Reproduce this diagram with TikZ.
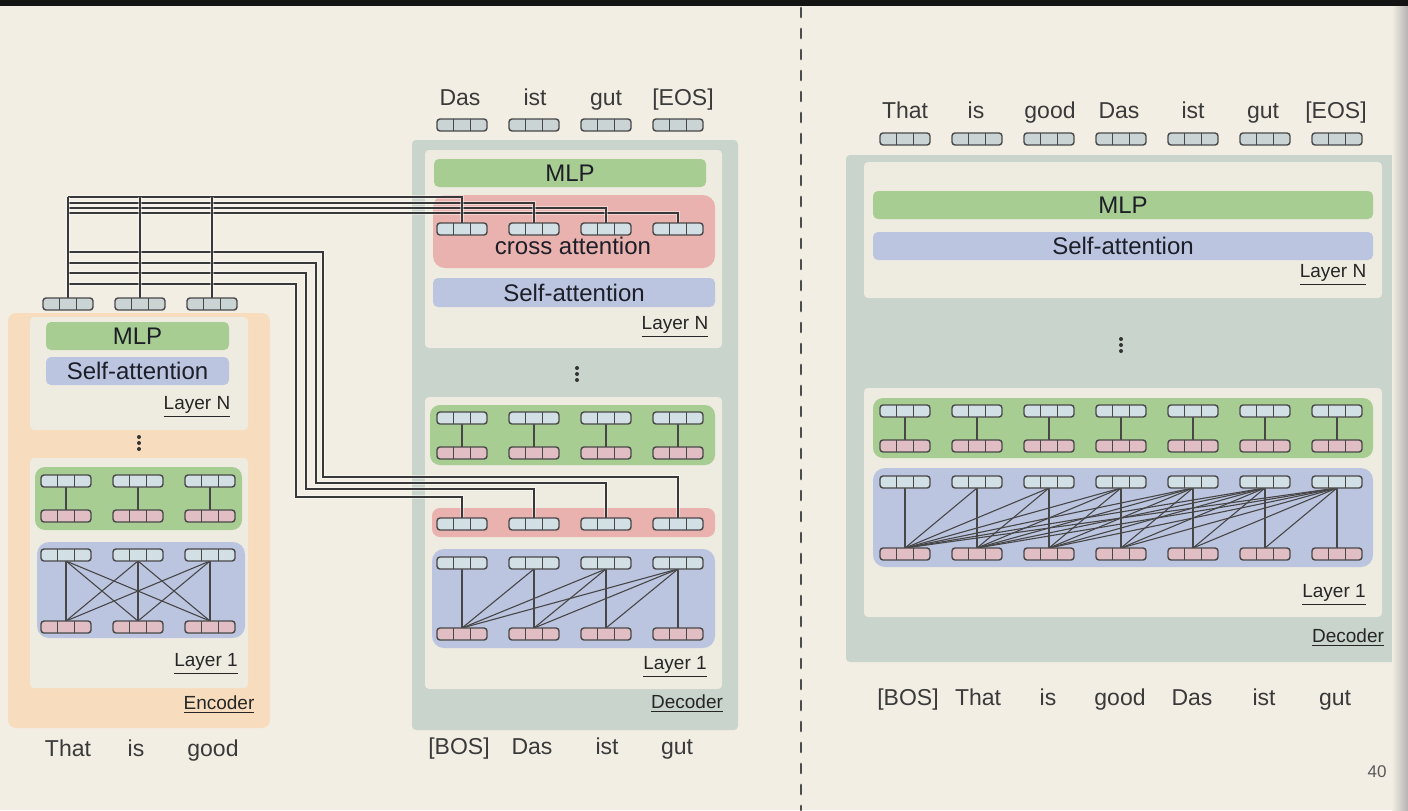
\documentclass[tikz,border=0pt]{standalone}
\usepackage{fontspec}
\setmainfont{Liberation Sans}
\usetikzlibrary{calc}
\pgfdeclarelayer{bgl}
\pgfdeclarelayer{linel}
\pgfsetlayers{bgl,linel,main}
\definecolor{pagebg}{RGB}{243,238,228}
\definecolor{orangebox}{RGB}{247,221,190}
\definecolor{innerbox}{RGB}{238,235,224}
\definecolor{decbox}{RGB}{201,212,204}
\definecolor{mlpgreen}{RGB}{168,205,146}
\definecolor{sablue}{RGB}{188,197,224}
\definecolor{crossred}{RGB}{234,178,174}
\definecolor{cellblue}{RGB}{210,223,228}
\definecolor{cellpink}{RGB}{224,190,196}
\definecolor{cellgray}{RGB}{203,212,213}
\definecolor{edgec}{RGB}{72,72,72}
\definecolor{bartxt}{RGB}{28,30,40}
\definecolor{wordtxt}{RGB}{58,58,58}
\tikzset{
  vec/.style={draw=edgec, line width=0.7pt, rounded corners=1.5pt, minimum width=25pt,
    minimum height=6pt, inner sep=0pt, outer sep=0pt,
    path picture={
      \draw[edgec, line width=0.45pt]
        ($(path picture bounding box.south west)!0.333!(path picture bounding box.south east)$) --
        ($(path picture bounding box.north west)!0.333!(path picture bounding box.north east)$);
      \draw[edgec, line width=0.45pt]
        ($(path picture bounding box.south west)!0.667!(path picture bounding box.south east)$) --
        ($(path picture bounding box.north west)!0.667!(path picture bounding box.north east)$);
    }},
  vb/.style={vec, fill=cellblue},
  vp/.style={vec, fill=cellpink},
  vg/.style={vec, fill=cellgray},
  bar/.style={rounded corners=2.5pt, inner sep=0pt, font=\fontsize{12}{14}\selectfont, text=bartxt},
  bartext/.style={inner sep=0pt, font=\fontsize{12}{14}\selectfont, text=bartxt, text height=8.6pt, text depth=0pt},
  lbl/.style={inner sep=0pt, font=\fontsize{9.5}{11}\selectfont, text=black!85, text height=6.8pt, text depth=2.6pt},
  word/.style={inner sep=0pt, font=\fontsize{11.5}{13}\selectfont, text=wordtxt, text height=8.2pt, text depth=0pt},
  conn/.style={draw=black!78, line width=0.75pt, preaction={draw=white, line width=2.2pt, opacity=0.45}},
  attnl/.style={draw=black!72, line width=0.55pt},
  dotc/.style={fill=black!80}
}
\begin{document}
\begin{tikzpicture}[x=0.5pt,y=-0.5pt]
\useasboundingbox (0,0) rectangle (1408,810);
\begin{pgfonlayer}{bgl}
\fill[pagebg] (0,0) rectangle (1408,810);
\fill[black!92] (0,0) rectangle (1408,6);
% dashed divider
\draw[black!70, line width=1.4pt, line cap=round, dash pattern=on 4.5pt off 6pt] (801,8) -- (801,810);
% ---------- Encoder ----------
\fill[orangebox, rounded corners=4pt] (8,313) rectangle (270,728);
\fill[innerbox, rounded corners=2pt] (30,317) rectangle (248,430);
\fill[innerbox, rounded corners=2pt] (30,458) rectangle (248,688);
\fill[mlpgreen, rounded corners=5pt] (35,467) rectangle (242,530);
\fill[sablue, rounded corners=6pt] (37,542) rectangle (245,638);
\node[bar, fill=mlpgreen, minimum width=91.5pt, minimum height=14pt] (emlp) at (137.5,336) {};
\node[bar, fill=sablue, minimum width=91.5pt, minimum height=14pt] (esa) at (137.5,371) {};
% ---------- Decoder (middle) ----------
\fill[decbox, rounded corners=2pt] (412,140) rectangle (738,730);
\fill[innerbox, rounded corners=2pt] (425,150) rectangle (722,348);
\fill[innerbox, rounded corners=2pt] (425,397) rectangle (722,689);
\node[bar, fill=mlpgreen, minimum width=136pt, minimum height=14pt] (dmlp) at (570,173) {};
\fill[crossred, rounded corners=6pt] (433,195) rectangle (715,268);
\node[bar, fill=sablue, minimum width=141pt, minimum height=14.5pt] (dsa) at (574,292.5) {};
\fill[mlpgreen, rounded corners=5pt] (430,405) rectangle (715,465);
\fill[crossred, rounded corners=4pt] (432,508) rectangle (715,537);
\fill[sablue, rounded corners=6pt] (432,549) rectangle (715,648);
% ---------- Decoder (right) ----------
\fill[decbox, rounded corners=2pt] (846,155) rectangle (1396,662);
\fill[innerbox, rounded corners=2pt] (864,162) rectangle (1382,298);
\fill[innerbox, rounded corners=2pt] (864,388) rectangle (1382,617);
\node[bar, fill=mlpgreen, minimum width=250pt, minimum height=14pt] (rmlp) at (1123,205) {};
\node[bar, fill=sablue, minimum width=250pt, minimum height=14pt] (rsa) at (1123,246) {};
\fill[mlpgreen, rounded corners=5pt] (873,398) rectangle (1373,458);
\fill[sablue, rounded corners=6pt] (873,468) rectangle (1373,567);
% right edge shading
\shade[left color=pagebg, right color=black!30] (1392,6) rectangle (1408,810);
\end{pgfonlayer}

% ---------- bar texts ----------
\node[bartext] (temlp) at (emlp) {MLP};
\node[bartext] (tesa) at (esa) {Self-attention};
\node[bartext] (tdmlp) at (dmlp) {MLP};
\node[bartext] (tdsa) at (dsa) {Self-attention};
\node[bartext] (tdcross) at (573,246) {cross attention};
\node[bartext] (trmlp) at (rmlp) {MLP};
\node[bartext] (trsa) at (rsa) {Self-attention};
% ---------- labels ----------
\node[lbl] (encN) at (197,405) {\underline{Layer N}};
\node[lbl] (enc1) at (206,662) {\underline{Layer 1}};
\node[lbl] (encl) at (219,705) {\underline{Encoder}};
\node[lbl] (decN) at (675,325) {\underline{Layer N}};
\node[lbl] (dec1) at (675,665) {\underline{Layer 1}};
\node[lbl] (decl) at (687,704) {\underline{Decoder}};
\node[lbl] (rN) at (1333,273) {\underline{Layer N}};
\node[lbl] (r1) at (1334,593) {\underline{Layer 1}};
\node[lbl] (rdl) at (1348,638) {\underline{Decoder}};
\node[font=\fontsize{8.5}{10}\selectfont, text=black!65] (pnum) at (1377,772) {40};

% dots
\foreach \yy in {-6,0,6} {
  \fill[dotc] (139,443+\yy) circle (1pt);
  \fill[dotc] (577,374+\yy) circle (1pt);
  \fill[dotc] (1121,345+\yy) circle (1pt);
}

% words
\node[word] (ew1) at (68,748) {That};
\node[word] (ew2) at (136,748) {is};
\node[word] (ew3) at (213,748) {good};
\node[word] (dw1) at (459,746) {[BOS]};
\node[word] (dw2) at (532,746) {Das};
\node[word] (dw3) at (607,746) {ist};
\node[word] (dw4) at (677,746) {gut};
\node[word] (tw1) at (460,97) {Das};
\node[word] (tw2) at (535,97) {ist};
\node[word] (tw3) at (606,97) {gut};
\node[word] (tw4) at (683,97) {[EOS]};
\node[word] (rt1) at (905,110) {That};
\node[word] (rt2) at (976,110) {is};
\node[word] (rt3) at (1050,110) {good};
\node[word] (rt4) at (1119,110) {Das};
\node[word] (rt5) at (1193,110) {ist};
\node[word] (rt6) at (1263,110) {gut};
\node[word] (rt7) at (1336,110) {[EOS]};
\node[word] (rb1) at (908,697) {[BOS]};
\node[word] (rb2) at (978,697) {That};
\node[word] (rb3) at (1048,697) {is};
\node[word] (rb4) at (1120,697) {good};
\node[word] (rb5) at (1192,697) {Das};
\node[word] (rb6) at (1264,697) {ist};
\node[word] (rb7) at (1335,697) {gut};

% ---------- vectors ----------
\foreach \i/\x in {1/68,2/140,3/212} \node[vg] (eo\i) at (\x,304) {};
\foreach \i/\x in {1/66,2/138,3/210} {
  \node[vb] (egt\i) at (\x,481) {};
  \node[vp] (egb\i) at (\x,516) {};
  \node[vb] (eat\i) at (\x,555) {};
  \node[vp] (eab\i) at (\x,627) {};
}
\foreach \i/\x in {1/462,2/534,3/606,4/678} {
  \node[vg] (do\i) at (\x,125) {};
  \node[vb] (dc\i) at (\x,229) {};
  \node[vb] (dgt\i) at (\x,418) {};
  \node[vp] (dgb\i) at (\x,453) {};
  \node[vb] (dx\i) at (\x,524) {};
  \node[vb] (dat\i) at (\x,563) {};
  \node[vp] (dab\i) at (\x,634) {};
}
\foreach \i/\x in {1/905,2/977,3/1049,4/1121,5/1193,6/1265,7/1337} {
  \node[vg] (ro\i) at (\x,139) {};
  \node[vb] (rgt\i) at (\x,411) {};
  \node[vp] (rgb\i) at (\x,446) {};
  \node[vb] (rat\i) at (\x,482) {};
  \node[vp] (rab\i) at (\x,554) {};
}

% ---------- lines ----------
\begin{pgfonlayer}{linel}
\foreach \i in {1,2,3} {
  \draw[attnl] (egt\i.south) -- (egb\i.north);
  \foreach \j in {1,2,3} \draw[attnl] (eat\i.south) -- (eab\j.north);
}
\foreach \i in {1,...,4} {
  \draw[attnl] (dgt\i.south) -- (dgb\i.north);
  \foreach \j in {1,...,\i} \draw[attnl] (dat\i.south) -- (dab\j.north);
}
\foreach \i in {1,...,7} {
  \draw[attnl] (rgt\i.south) -- (rgb\i.north);
  \foreach \j in {1,...,\i} \draw[attnl] (rat\i.south) -- (rab\j.north);
}
% encoder to decoder
\draw[conn] (eo1.north |- 0,213) -| (dc4.north);
\draw[conn] (eo1.north |- 0,208) -| (dc3.north);
\draw[conn] (eo1.north |- 0,203) -| (dc2.north);
\draw[conn] (eo1.north |- 0,197) -| (dc1.north);
\draw[conn] (eo1.north |- 0,252) -| (323,477) -| (dx4.north);
\draw[conn] (eo1.north |- 0,263) -| (316,483) -| (dx3.north);
\draw[conn] (eo1.north |- 0,273) -| (306,489) -| (dx2.north);
\draw[conn] (eo1.north |- 0,284) -| (296,497) -| (dx1.north);
\draw[conn] (eo1.north) -- (eo1.north |- 0,197);
\draw[conn] (eo2.north) -- (eo2.north |- 0,197);
\draw[conn] (eo3.north) -- (eo3.north |- 0,197);
\end{pgfonlayer}
\end{tikzpicture}
\end{document}
